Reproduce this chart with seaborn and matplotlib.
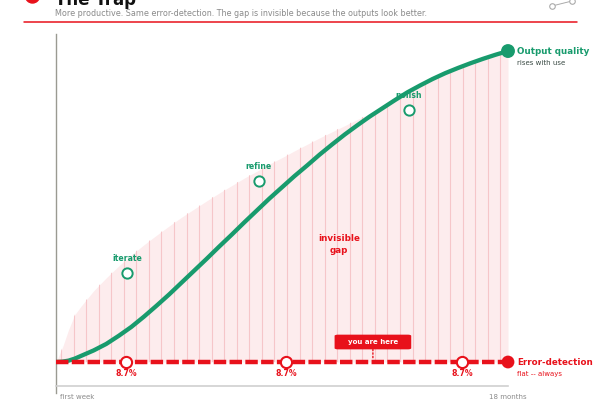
import numpy as np
import matplotlib
matplotlib.use("Agg")
import matplotlib.pyplot as plt
import seaborn as sns
from matplotlib.lines import Line2D
from matplotlib.patches import Circle

# --- Dados (meses desde a primeira semana) ---
meses = [0, 0.25, 0.5, 0.75, 1, 1.5, 2, 2.5, 3, 3.5, 4, 4.5, 5, 5.5, 6, 6.5, 7, 7.5, 8, 8.5,
         9, 9.5, 10, 10.5, 11, 11.5, 12, 12.5, 13, 13.5, 14, 14.5, 15, 15.5, 16, 16.5,
         17, 17.5, 18]
qualidade = [8.7, 8.8, 9.1, 9.7, 10.5, 12.1, 14.0, 16.4, 19.0, 22.0, 25.2, 28.5, 32.0, 35.5,
             39.0, 42.6, 46.1, 49.7, 53.2, 56.7, 60.0, 63.3, 66.4, 69.6, 72.6, 75.5, 78.2,
             80.8, 83.2, 85.6, 87.9, 89.9, 91.8, 93.5, 95.0, 96.4, 97.7, 98.9, 100.0]
# borda superior da faixa "invisible gap"
percepcao = [8.7, 12.8, 18.2, 22.6, 25.1, 29.6, 33.4, 36.9, 40.1, 43.1, 45.9, 48.6, 51.2, 53.6,
             56.0, 58.3, 60.5, 62.7, 64.7, 66.8, 68.7, 70.7, 72.6, 74.5, 76.3, 78.1, 79.9,
             81.6, 83.3, 85.0, 86.7, 88.3, 89.9, 91.5, 93.1, 94.6, 96.1, 97.6, 99.1]

erro_mes = [0, 2.8, 9.16, 16.17, 18]
erro_val = [8.7, 8.7, 8.7, 8.7, 8.7]
erro_marcas = [2.8, 9.16, 16.17]
erro_rotulo = "8.7%"

etapas = ["iterate", "refine", "polish"]
etapas_mes = [2.83, 8.08, 14.06]
etapas_val = [34.8, 61.8, 82.7]

voce_esta_aqui = 12.62
gap_mes, gap_val = 11.26, 43.1
piso = 1.8  # linha do eixo x

# --- Cores ---
verde = "#189b6d"
vermelho = "#e8111b"
rosa = "#fdeced"
listra = "#f6c6c9"
cinza = "#8a8a8a"

sns.set_theme(style="white")
plt.rcParams["font.family"] = ["DejaVu Sans"]

fig = plt.figure(figsize=(6, 4), dpi=100)
ax = fig.add_axes([56 / 600, 7 / 400, 452 / 600, 359 / 400])
ax.set_xlim(0, 18)
ax.set_ylim(-0.4, 105.0)

# Faixa rosa (gap) com listras verticais
topo = np.maximum(qualidade, percepcao)
faixa = ax.fill_between(meses, erro_val[0], topo, color=rosa, lw=0, zorder=1)
listras = ax.vlines(np.arange(0.2, 18, 0.5), erro_val[0], 105, colors=listra, lw=0.8, zorder=1.5)
listras.set_clip_path(faixa.get_paths()[0], ax.transData)

# Curvas
sns.lineplot(x=meses, y=qualidade, color=verde, lw=3.1, ax=ax, zorder=3, solid_capstyle="round")
sns.lineplot(x=erro_mes, y=erro_val, color=vermelho, lw=3.2, ax=ax, zorder=3)
ax.lines[-1].set_dashes([2.8, 0.75])

# Marcadores
sns.scatterplot(x=etapas_mes, y=etapas_val, s=55, color="white", edgecolor=verde,
                linewidth=1.4, zorder=5, ax=ax)
sns.scatterplot(x=erro_marcas, y=erro_val[1:4], s=65, color="white", edgecolor=vermelho,
                linewidth=1.5, zorder=5, ax=ax)
sns.scatterplot(x=[meses[-1]], y=[qualidade[-1]], s=100, color=verde, edgecolor="none",
                zorder=6, clip_on=False, ax=ax)
sns.scatterplot(x=[erro_mes[-1]], y=[erro_val[-1]], s=85, color=vermelho, edgecolor="none",
                zorder=6, clip_on=False, ax=ax)

# Rótulos das etapas
for nome, m, v in zip(etapas, etapas_mes, etapas_val):
    ax.annotate(nome, xy=(m, v), xytext=(0, 10.5), textcoords="offset points",
                ha="center", va="center", fontsize=5.6, weight="bold", color=verde, zorder=2)
for m in erro_marcas:
    ax.annotate(erro_rotulo, xy=(m, erro_val[0]), xytext=(0, -8.3), textcoords="offset points",
                ha="center", va="center", fontsize=5.6, weight="bold", color=vermelho, zorder=5)

ax.text(gap_mes, gap_val, "invisible\ngap", ha="center", va="center", fontsize=6.3,
        weight="bold", color=vermelho, linespacing=1.45, zorder=4)

# "you are here"
ax.annotate("you are here", xy=(voce_esta_aqui, erro_val[0]), xytext=(0, 14.4),
            textcoords="offset points", ha="center", va="center", fontsize=5,
            weight="bold", color="white", zorder=6,
            bbox=dict(boxstyle="round,pad=1.9,rounding_size=0.5", mutation_aspect=0.33,
                      fc=vermelho, ec="none"),
            arrowprops=dict(arrowstyle="-", color=vermelho, lw=1, linestyle=(0, (1, 1.5)),
                            shrinkA=0, shrinkB=3))

# Rótulos à direita
ax.annotate("Output quality", xy=(meses[-1], qualidade[-1]), xytext=(6.5, 0),
            textcoords="offset points", ha="left", va="center", fontsize=6.3,
            weight="bold", color=verde, annotation_clip=False)
ax.annotate("rises with use", xy=(meses[-1], qualidade[-1]), xytext=(6.5, -8.4),
            textcoords="offset points", ha="left", va="center", fontsize=5,
            color="#3a4a44", annotation_clip=False)
ax.annotate("Error-detection", xy=(erro_mes[-1], erro_val[-1]), xytext=(6.5, 0),
            textcoords="offset points", ha="left", va="center", fontsize=6.3,
            weight="bold", color=vermelho, annotation_clip=False)
ax.annotate("flat -- always", xy=(erro_mes[-1], erro_val[-1]), xytext=(6.5, -8.6),
            textcoords="offset points", ha="left", va="center", fontsize=5,
            color=vermelho, annotation_clip=False)

# Eixos
ax.set_yticks([])
ax.set_xticks([])
ax.annotate("first week", xy=(0, piso), xytext=(3, -8), textcoords="offset points",
            ha="left", va="center", fontsize=5, color=cinza, annotation_clip=False)
ax.annotate("18 months", xy=(18, piso), xytext=(0, -8), textcoords="offset points",
            ha="center", va="center", fontsize=5, color=cinza, annotation_clip=False)
for lado in ["top", "right"]:
    ax.spines[lado].set_visible(False)
ax.spines["left"].set_color("#9a9a92")
ax.spines["left"].set_linewidth(1)
ax.spines["bottom"].set_color("#d0d0d0")
ax.spines["bottom"].set_linewidth(1.2)
ax.spines["bottom"].set_position(("data", piso))

# Cabeçalho
fig.text(55 / 600, 395 / 400, "The Trap", fontsize=12, weight="bold", color="#111111",
         ha="left", va="baseline")
fig.text(55 / 600, 1 - 13 / 400,
         "More productive. Same error-detection. The gap is invisible because the outputs look better.",
         fontsize=5.75, color=cinza, ha="left", va="center")
fig.add_artist(Line2D([24 / 600, 577 / 600], [1 - 22 / 400] * 2, color=vermelho, lw=1.1))
fig.add_artist(Circle((0.325, 4.04), 0.07, transform=fig.dpi_scale_trans, color=vermelho))
fig.add_artist(Line2D([552 / 600, 572 / 600], [1 - 6 / 400, 1 - 1 / 400], color="#aaaaaa",
                      lw=0.7, marker="o", ms=4, mfc="white", mec="#aaaaaa", mew=0.8))

fig.savefig("out.png", dpi=100)
